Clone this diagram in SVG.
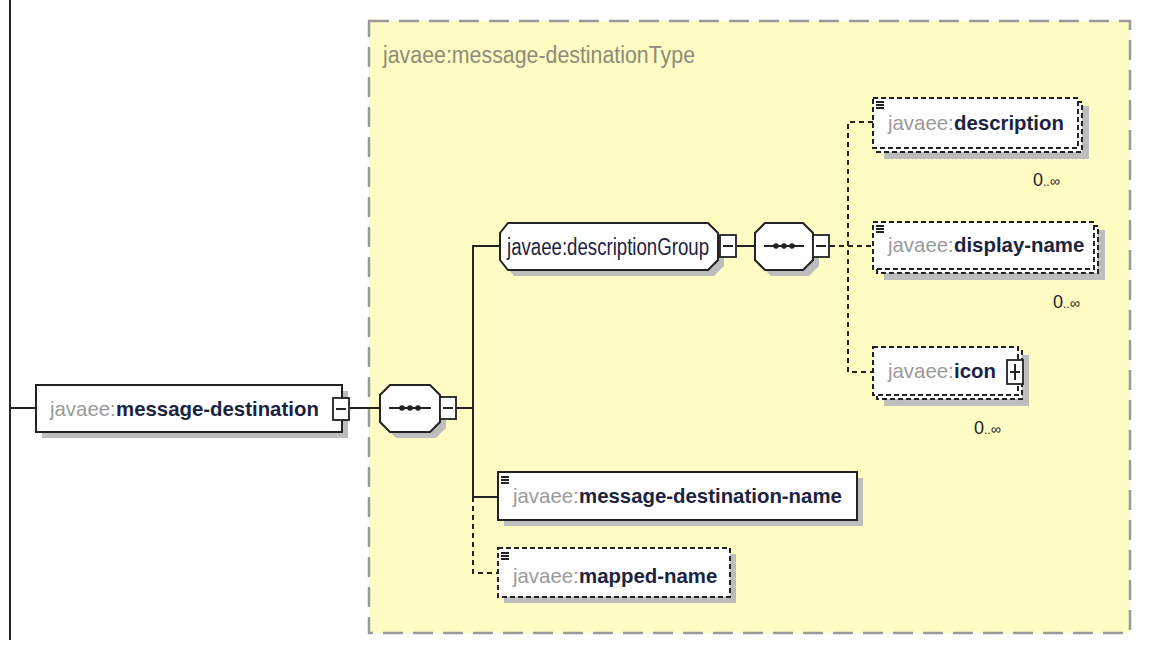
<svg xmlns="http://www.w3.org/2000/svg" width="1154" height="652" viewBox="0 0 1154 652">
<defs>
<style>
.bg{fill:#ffffff}
.type{fill:#fffcc4;stroke:#9a9a9a;stroke-width:2.5;stroke-dasharray:20 10}
.box{fill:#ffffff;stroke:#222;stroke-width:2}
.dbox{fill:#ffffff;stroke:#222;stroke-width:2;stroke-dasharray:5 3}
.shadow{fill:#bdbdbd}
.ln{stroke:#222;stroke-width:2;fill:none}
.dln{stroke:#222;stroke-width:2;fill:none;stroke-dasharray:5 4}
.ns{font-family:"Liberation Sans",Arial,sans-serif;font-size:20.4px;fill:#9a9a9a}
.nm{font-family:"Liberation Sans",Arial,sans-serif;font-size:20.4px;fill:#1c2340;font-weight:bold}
.nmn{font-family:"Liberation Sans",Arial,sans-serif;font-size:23px;fill:#1c2340}
.tt{font-family:"Liberation Sans",Arial,sans-serif;font-size:23px;fill:#8c8c78}
.occ{font-family:"Liberation Sans",Arial,sans-serif;font-size:18px;fill:#222}
.btn{fill:#fff;stroke:#222;stroke-width:1.8}
</style>
</defs>
<rect class="bg" x="0" y="0" width="1154" height="652"/>
<line x1="10" y1="0" x2="10" y2="640" stroke="#222" stroke-width="2"/>

<g id="type-box">
<rect class="type" x="369" y="21" width="761" height="612"/>
<text class="tt" x="383" y="63" textLength="312" lengthAdjust="spacingAndGlyphs">javaee:message-destinationType</text>
</g>

<g id="connectors">
<line class="ln" x1="10" y1="408" x2="36" y2="408"/>
<line class="ln" x1="350" y1="408" x2="380" y2="408"/>
<line class="ln" x1="456" y1="408" x2="473" y2="408"/>
<polyline class="ln" points="500,246 473,246 473,497 498,497"/>
<polyline class="dln" points="473,497 473,573 498,573"/>
<line class="ln" x1="737" y1="246" x2="755" y2="246"/>
<line class="dln" x1="830" y1="246" x2="873" y2="246"/>
<polyline class="dln" points="873,122 848,122 848,372 873,372"/>
</g>

<g id="message-destination">
<rect class="shadow" x="42" y="391" width="306" height="47"/>
<rect class="box" x="36" y="385" width="306" height="47"/>
<text class="ns" x="50" y="416">javaee:</text>
<text class="nm" x="116" y="416">message-destination</text>
<rect class="btn" x="333" y="398" width="16" height="22"/>
<line class="ln" x1="336" y1="409" x2="346" y2="409" stroke-width="1.5"/>
</g>

<g id="sequence-1">
<polygon class="shadow" points="396,391 436,391 446,401 446,428 436,438 396,438 386,428 386,401"/>
<polygon class="box" points="390,385 430,385 440,395 440,422 430,432 390,432 380,422 380,395"/>
<line class="ln" x1="389" y1="408" x2="431" y2="408"/>
<circle cx="402" cy="408" r="2.8" fill="#222"/><circle cx="410" cy="408" r="2.8" fill="#222"/><circle cx="418" cy="408" r="2.8" fill="#222"/>
<rect class="btn" x="440" y="397" width="16" height="22"/>
<line class="ln" x1="443" y1="408" x2="453" y2="408" stroke-width="1.5"/>
</g>

<g id="descriptionGroup">
<polygon class="shadow" points="514,229 714,229 724,239 724,266 714,276 514,276 506,266 506,239"/>
<polygon class="box" points="508,223 708,223 718,233 718,260 708,270 508,270 500,260 500,233"/>
<text class="nmn" x="507" y="255" textLength="202" lengthAdjust="spacingAndGlyphs">javaee:descriptionGroup</text>
<rect class="btn" x="720" y="235" width="16" height="22"/>
<line class="ln" x1="723" y1="246" x2="733" y2="246" stroke-width="1.5"/>
</g>

<g id="sequence-2">
<polygon class="shadow" points="771,229 809,229 819,239 819,266 809,276 771,276 761,266 761,239"/>
<polygon class="box" points="765,223 803,223 813,233 813,260 803,270 765,270 755,260 755,233"/>
<line class="ln" x1="764" y1="246" x2="804" y2="246"/>
<circle cx="776" cy="246" r="2.8" fill="#222"/><circle cx="784" cy="246" r="2.8" fill="#222"/><circle cx="792" cy="246" r="2.8" fill="#222"/>
<rect class="btn" x="813" y="235" width="16" height="22"/>
<line class="ln" x1="816" y1="246" x2="826" y2="246" stroke-width="1.5"/>
</g>

<g id="description">
<rect class="shadow" x="884" y="106" width="205" height="53"/>
<rect class="dbox" x="877" y="102" width="205" height="50"/>
<rect class="dbox" x="873" y="98" width="205" height="50"/>
<g class="ln" stroke-width="1.5"><line x1="876" y1="102" x2="884" y2="102"/><line x1="876" y1="105" x2="884" y2="105"/><line x1="876" y1="108" x2="884" y2="108"/></g>
<text class="ns" x="888" y="130">javaee:</text>
<text class="nm" x="954" y="130">description</text>
<text class="occ" x="1033" y="186">0<tspan font-size="12">..</tspan><tspan font-size="14">∞</tspan></text>
</g>

<g id="display-name">
<rect class="shadow" x="884" y="230" width="221" height="50"/>
<rect class="dbox" x="877" y="226" width="221" height="47"/>
<rect class="dbox" x="873" y="222" width="221" height="47"/>
<g class="ln" stroke-width="1.5"><line x1="876" y1="226" x2="884" y2="226"/><line x1="876" y1="229" x2="884" y2="229"/><line x1="876" y1="232" x2="884" y2="232"/></g>
<text class="ns" x="888" y="252">javaee:</text>
<text class="nm" x="954" y="252">display-name</text>
<text class="occ" x="1053" y="308">0<tspan font-size="12">..</tspan><tspan font-size="14">∞</tspan></text>
</g>

<g id="icon">
<rect class="shadow" x="884" y="355" width="145" height="51"/>
<rect class="dbox" x="877" y="351" width="145" height="48"/>
<rect class="dbox" x="873" y="347" width="145" height="48"/>
<text class="ns" x="888" y="378">javaee:</text>
<text class="nm" x="954" y="378">icon</text>
<rect class="btn" x="1007" y="360" width="16" height="24"/>
<line class="ln" x1="1010" y1="372" x2="1020" y2="372" stroke-width="1.5"/>
<line class="ln" x1="1015" y1="364" x2="1015" y2="380" stroke-width="1.5"/>
<text class="occ" x="974" y="434">0<tspan font-size="12">..</tspan><tspan font-size="14">∞</tspan></text>
</g>

<g id="message-destination-name">
<rect class="shadow" x="504" y="478" width="359" height="48"/>
<rect class="box" x="498" y="472" width="359" height="48"/>
<g class="ln" stroke-width="1.5"><line x1="501" y1="477" x2="509" y2="477"/><line x1="501" y1="480" x2="509" y2="480"/><line x1="501" y1="483" x2="509" y2="483"/></g>
<text class="ns" x="513" y="503">javaee:</text>
<text class="nm" x="579" y="503">message-destination-name</text>
</g>

<g id="mapped-name">
<rect class="shadow" x="504" y="554" width="232" height="49"/>
<rect class="dbox" x="498" y="548" width="232" height="49"/>
<g class="ln" stroke-width="1.5"><line x1="501" y1="553" x2="509" y2="553"/><line x1="501" y1="556" x2="509" y2="556"/><line x1="501" y1="559" x2="509" y2="559"/></g>
<text class="ns" x="513" y="583">javaee:</text>
<text class="nm" x="579" y="583">mapped-name</text>
</g>
</svg>
